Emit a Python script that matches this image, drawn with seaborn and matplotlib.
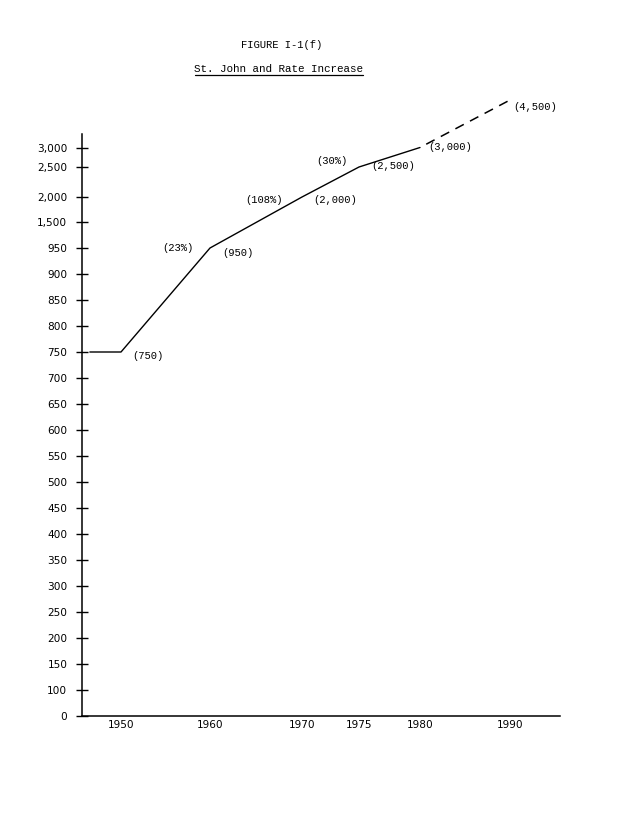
import numpy as np
import pandas as pd
import matplotlib
matplotlib.use("Agg")
import matplotlib.pyplot as plt
from matplotlib.lines import Line2D
import seaborn as sns

# ---- data ----
solid_years = [1946.5, 1950, 1960, 1970, 1975, 1980]
solid_values = [750, 750, 950, 2000, 2500, 3000]
proj_years = [1980, 1990]
proj_values = [3000, 4500]

point_labels = ["(750)", "(950)", "(2,000)", "(2,500)", "(3,000)", "(4,500)"]
point_years = [1950, 1960, 1970, 1975, 1980, 1990]
point_values = [750, 950, 2000, 2500, 3000, 4500]
rate_labels = ["(23%)", "(108%)", "(30%)"]
rate_years = [1960, 1970, 1975]
rate_values = [950, 2000, 2500]

x_ticks = [1950, 1960, 1970, 1975, 1980, 1990]
y_ticks = [0] + list(range(100, 951, 50)) + [1500, 2000, 2500, 3000]
y_tick_labels = [f"{v:,}" for v in y_ticks]

title = "FIGURE I-1(f)"
subtitle = "St. John and Rate Increase"

# ---- irregular axis scales (as drawn on the original) ----
x_anchor_v = np.array([1900, 1950, 1960, 1970, 1975, 1980, 1990, 2050], float)
x_anchor_p = np.array([121 - 50 * 8.9, 121, 210, 302, 359, 420, 510, 510 + 60 * 9.0])
y_anchor_v = np.array([-1000] + y_ticks + [4500, 9000], float)
y_anchor_p = np.array([-260] + [0] + [26 * (i + 1) for i in range(18)]
                      + [494, 519, 549, 568.5, 616, 616 + 4500 * 0.0317])

def fx(v):
    return np.interp(v, x_anchor_v, x_anchor_p)
def fx_inv(p):
    return np.interp(p, x_anchor_p, x_anchor_v)
def fy(v):
    return np.interp(v, y_anchor_v, y_anchor_p)
def fy_inv(p):
    return np.interp(p, y_anchor_p, y_anchor_v)

W, H = 630, 832
sns.set_style("white")
plt.rcParams["font.family"] = ["Liberation Mono", "DejaVu Sans Mono"]
fig = plt.figure(figsize=(W / 100, H / 100), dpi=100)

ax = fig.add_axes([82 / W, 1 - 716 / H, (560 - 82) / W, (716 - 134) / H])
ax.set_xscale("function", functions=(fx, fx_inv))
ax.set_yscale("function", functions=(fy, fy_inv))

df_solid = pd.DataFrame({"year": solid_years, "value": solid_values})
df_proj = pd.DataFrame({"year": proj_years, "value": proj_values})
sns.lineplot(data=df_solid, x="year", y="value", ax=ax, color="black",
             linewidth=1.0, sort=False, clip_on=False)
sns.lineplot(data=df_proj, x="year", y="value", ax=ax, color="black",
             linewidth=1.1, linestyle=(6.2, (6.2, 4.6)), sort=False, clip_on=False)

ax.set_xlim(fx_inv(82), fx_inv(560))
ax.set_ylim(0, fy_inv(582))

ax.set_xticks(x_ticks)
ax.set_xticklabels([str(t) for t in x_ticks])
ax.set_yticks(y_ticks)
ax.set_yticklabels(y_tick_labels)
ax.minorticks_off()
ax.tick_params(axis="y", left=True, direction="inout", length=9, width=1.0,
               pad=6, labelsize=7.6, colors="black")
ax.tick_params(axis="x", bottom=False, length=0, pad=3, labelsize=7.6,
               colors="black")
for lab in ax.get_yticklabels() + ax.get_xticklabels():
    lab.set_family(["DejaVu Sans", "Liberation Sans"])
ax.set_xlabel("")
ax.set_ylabel("")
for s in ["top", "right"]:
    ax.spines[s].set_visible(False)
for s in ["left", "bottom"]:
    ax.spines[s].set_color("black")
    ax.spines[s].set_linewidth(1.1)

# point annotations (offsets in pixels)
pt_offsets = [(11, -4), (12, -5), (11, -3), (12, 1), (8, 1), (3, -7)]
for lab, xv, yv, off in zip(point_labels, point_years, point_values, pt_offsets):
    ax.annotate(lab, (xv, yv), xytext=off, textcoords="offset pixels",
                ha="left", va="center", fontsize=7.6, color="black",
                annotation_clip=False)
rate_offsets = [(-17, 0), (-19, -3), (-11, 6)]
for lab, xv, yv, off in zip(rate_labels, rate_years, rate_values, rate_offsets):
    ax.annotate(lab, (xv, yv), xytext=off, textcoords="offset pixels",
                ha="right", va="center", fontsize=7.6, color="black",
                annotation_clip=False)

fig.text(282 / W, 1 - 45 / H, title, ha="center", va="center",
         fontsize=7.6, color="black")
fig.text(279 / W, 1 - 69 / H, subtitle, ha="center", va="center",
         fontsize=7.8, color="black")
fig.add_artist(Line2D([195 / W, 363 / W], [1 - 75 / H, 1 - 75 / H],
                      color="black", linewidth=0.9, transform=fig.transFigure))

fig.savefig("out.png", dpi=100, facecolor="white")
